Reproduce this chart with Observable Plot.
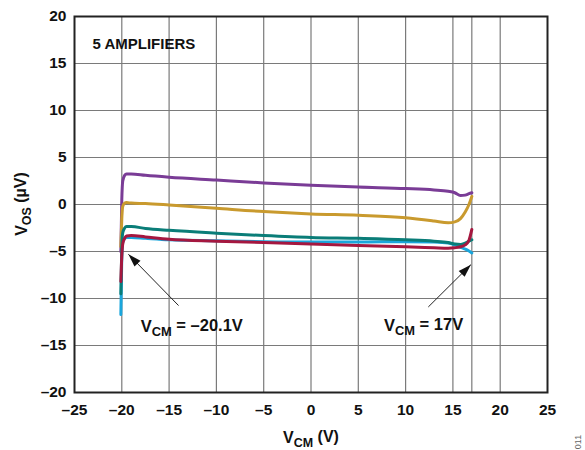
<!DOCTYPE html>
<html><head><meta charset="utf-8">
<script src="https://cdn.jsdelivr.net/npm/d3@7"></script>
<script src="https://cdn.jsdelivr.net/npm/@observablehq/plot@0.6"></script>
<style>body{margin:0;background:#fff;} svg{font-family:"Liberation Sans",Arial,sans-serif;}</style>
</head><body><div id="chart"></div>
<script>
const vcm = [-20.1, -20.0, -19.9, -19.7, -19.5, -19, -17.5, -15, -10, -5, 0, 5, 10, 13, 14.5, 15.2, 15.8, 16.3, 16.7, 17];
const ampA = [-5.0, 0.5, 2.5, 3.1, 3.25, 3.25, 3.1, 2.9, 2.6, 2.3, 2.05, 1.85, 1.7, 1.55, 1.4, 1.25, 0.95, 1.0, 1.15, 1.25];
const ampB = [-4.5, -1.5, -0.2, 0.15, 0.2, 0.15, 0.1, -0.05, -0.4, -0.75, -1.0, -1.15, -1.4, -1.75, -1.95, -1.85, -1.5, -0.8, 0.0, 0.85];
const ampC = [-11.7, -5.5, -4.0, -3.6, -3.5, -3.5, -3.6, -3.75, -3.85, -3.95, -4.0, -4.0, -3.95, -4.0, -4.1, -4.3, -4.55, -4.75, -4.95, -5.15];
const ampD = [-9.5, -4.5, -3.0, -2.5, -2.35, -2.35, -2.55, -2.75, -3.05, -3.3, -3.5, -3.6, -3.75, -3.9, -4.05, -4.2, -4.25, -4.1, -3.9, -3.75];
const ampE = [-8.2, -5.5, -4.2, -3.6, -3.35, -3.3, -3.45, -3.7, -3.9, -4.05, -4.2, -4.35, -4.5, -4.6, -4.65, -4.6, -4.5, -4.3, -3.8, -2.65];
const seriesNames = ["Amp A", "Amp B", "Amp C", "Amp D", "Amp E"];
const seriesValues = [ampA, ampB, ampC, ampD, ampE];
const seriesColors = ["#7a3c96", "#c99a2e", "#1aa6dc", "#0a7d78", "#a5173f"];
const xTicks = [-25, -20, -15, -10, -5, 0, 5, 10, 15, 20, 25];
const yTicks = [-20, -15, -10, -5, 0, 5, 10, 15, 20];
const xGrid = [-20, -15, -10, -5, 0, 5, 10, 15, 17, 20];
const yGrid = [-15, -10, -5, 0, 5, 10, 15];
const labels = [
  {x: -12.6, y: -13.0, text: "VCM = –20.1V"},
  {x: 11.9, y: -12.9, text: "VCM = 17V"}
];
const arrows = [
  {x1: -14.0, y1: -10.75, x2: -19.3, y2: -5.3},
  {x1: 12.4, y1: -10.9, x2: 16.9, y2: -6.4}
];
const note = [{x: -23.1, y: 17.05, text: "5 AMPLIFIERS"}];

const rows = [];
seriesNames.forEach((s, i) => vcm.forEach((x, j) => rows.push({series: s, x, y: seriesValues[i][j]})));
const fmt = d => (d < 0 ? "–" + Math.abs(d) : String(d));
const heads = arrows.map(a => ({x: a.x2, y: a.y2, rot: Math.atan2(a.x2 - a.x1, a.y2 - a.y1) * 180 / Math.PI}));
const headShape = {
  draw(context, l) {
    context.moveTo(0, -l);
    context.lineTo(-4.2, 0);
    context.lineTo(4.2, 0);
    context.closePath();
  }
};

const plot = Plot.plot({
  width: 585, height: 450,
  marginLeft: 74, marginRight: 38, marginTop: 16, marginBottom: 58,
  style: {fontFamily: "Liberation Sans, Arial, sans-serif", fontWeight: "bold", fontSize: "15px", color: "#111"},
  x: {domain: [-25, 25]},
  y: {domain: [-20, 20]},
  color: {domain: seriesNames, range: seriesColors},
  marks: [
    Plot.ruleX(xGrid, {stroke: "#7a7a7a", strokeWidth: 1.2}),
    Plot.ruleY(yGrid, {stroke: "#7a7a7a", strokeWidth: 1.2}),
    Plot.line(rows, {x: "x", y: "y", z: "series", stroke: "series", strokeWidth: 3, curve: "monotone-x"}),
    Plot.frame({stroke: "#222", strokeWidth: 2}),
    Plot.link(arrows, {x1: "x1", y1: "y1", x2: "x2", y2: "y2", stroke: "#222", strokeWidth: 1}),
    Plot.vector(heads, {x: "x", y: "y", rotate: "rot", length: 13, anchor: "end", shape: headShape, fill: "#111", stroke: "none"}),
    Plot.text(labels, {x: "x", y: "y", text: "text", fontSize: 16.5, fontWeight: "bold", fill: "#111", className: "sub-text"}),
    Plot.text(note, {x: "x", y: "y", text: "text", textAnchor: "start", fontSize: 15, fontWeight: "bold", fill: "#111"}),
    Plot.axisX({ticks: xTicks, tickFormat: fmt, tickSize: 0, tickPadding: 11, label: null, fontSize: 15.5}),
    Plot.axisY({ticks: yTicks, tickFormat: fmt, tickSize: 0, tickPadding: 8, label: null, fontSize: 15.5})
  ]
});

const svg = d3.select(plot);
function subText(sel, main, sub, rest) {
  sel.text(null);
  sel.append("tspan").text(main);
  sel.append("tspan").attr("dy", "0.3em").attr("font-size", "0.78em").text(sub);
  sel.append("tspan").attr("dy", "-0.3em").text(rest);
}
svg.selectAll(".sub-text text").each(function() {
  const t = d3.select(this).text();
  const m = t.match(/^V(CM|OS)(.*)$/);
  if (m) subText(d3.select(this), "V", m[1], m[2]);
});
const xl = svg.append("text").attr("x", 311).attr("y", 443).attr("text-anchor", "middle")
  .attr("font-size", 16).attr("font-weight", "bold").attr("fill", "#111");
subText(xl, "V", "CM", " (V)");
const yl = svg.append("text").attr("transform", "translate(27,204) rotate(-90)").attr("text-anchor", "middle")
  .attr("font-size", 16).attr("font-weight", "bold").attr("fill", "#111");
subText(yl, "V", "OS", " (µV)");
svg.append("text").attr("transform", "translate(581,442) rotate(-90)").attr("font-size", 9)
  .attr("font-weight", "normal").attr("fill", "#666").text("011");
document.getElementById("chart").appendChild(plot);
</script></body></html>
